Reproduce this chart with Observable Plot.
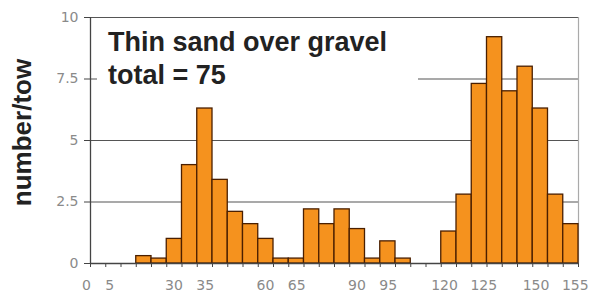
<!DOCTYPE html>
<html>
<head>
<meta charset="utf-8">
<script src="https://cdn.jsdelivr.net/npm/d3@7"></script>
<script src="https://cdn.jsdelivr.net/npm/@observablehq/plot@0.6"></script>
<style>
  html, body { margin: 0; padding: 0; background: #fff; }
  #wrap { position: relative; width: 594px; height: 294px; }
  #title {
    position: absolute; left: 97px; top: 26px; width: 310px; height: 66px;
    padding-left: 11px; background: #fff;
    font-family: "Liberation Sans", Arial, sans-serif; font-weight: bold;
    font-size: 27px; line-height: 33px; color: #222; white-space: nowrap;
  }
</style>
</head>
<body>
<div id="wrap"></div>
<script>
// Bin starts (mm), 5-unit bins
const binStarts = d3.range(0, 160, 5);
// number/tow per bin
const values = [0, 0, 0, 0.3, 0.2, 1.0, 4.0, 6.3, 3.4, 2.1, 1.6, 1.0, 0.2, 0.2, 2.2, 1.6,
                2.2, 1.4, 0.2, 0.9, 0.2, 0, 0, 1.3, 2.8, 7.3, 9.2, 7.0, 8.0, 6.3, 2.8, 1.6];
const xTickLabels = [0, 5, 30, 35, 60, 65, 90, 95, 120, 125, 150, 155];
const yTicks = [0, 2.5, 5, 7.5, 10];
const titleLines = ["Thin sand over gravel", "total = 75"];
const yLabel = "number/tow";

const data = binStarts.map((b, i) => ({x1: b, x2: b + 5, value: values[i]}));
const tickFont = "DejaVu Sans, sans-serif";

// Labels come in pairs; spread each pair apart in proportion to label length
const labelMarks = [];
for (const parity of [0, 1]) {
  for (const len of [1, 2, 3]) {
    const subset = xTickLabels.filter((d, i) => i % 2 === parity && String(d).length === len);
    if (!subset.length) continue;
    labelMarks.push(Plot.text(subset, {x: d => d, text: d => String(d), frameAnchor: "bottom",
      textAnchor: "middle", lineAnchor: "top", dy: 17, dx: (parity ? 1 : -1) * 4 * len,
      fill: "#8a8a8a", fontSize: 14, fontFamily: tickFont}));
  }
}

const chart = Plot.plot({
  width: 594,
  height: 294,
  marginLeft: 90,
  marginRight: 16,
  marginTop: 17,
  marginBottom: 31,
  style: {background: "#fff"},
  x: {domain: [0, 160]},
  y: {domain: [0, 10]},
  marks: [
    Plot.ruleY(yTicks.filter(d => d > 0), {stroke: "#555", strokeWidth: 1.2}),
    Plot.ruleX([160], {stroke: "#aaa", strokeWidth: 1.2}),
    Plot.rectY(data, {x1: "x1", x2: "x2", y: "value", fill: "#f5921e", stroke: "#4a1f00", strokeWidth: 1.3}),
    Plot.ruleY([0], {stroke: "#444", strokeWidth: 1.3}),
    Plot.ruleX([0], {stroke: "#444", strokeWidth: 1.3}),
    Plot.axisX({ticks: d3.range(0, 165, 5), tickSize: 4, tickFormat: () => "", stroke: "#444", label: null}),
    ...labelMarks,
    Plot.axisY({ticks: yTicks, tickSize: 6, tickPadding: 6, stroke: "#444", fill: "#8a8a8a",
      fontSize: 14, fontFamily: tickFont, label: null, tickFormat: d => String(d)}),
    Plot.text([yLabel], {frameAnchor: "left", textAnchor: "middle", lineAnchor: "middle", rotate: -90,
      dx: -68, dy: -8, fontSize: 26, fontWeight: "bold",
      fontFamily: "Liberation Sans, Arial, sans-serif", fill: "#222"})
  ]
});

const wrap = document.getElementById("wrap");
wrap.appendChild(chart);
const title = document.createElement("div");
title.id = "title";
title.innerHTML = titleLines.join("<br>");
wrap.appendChild(title);
</script>
</body>
</html>
